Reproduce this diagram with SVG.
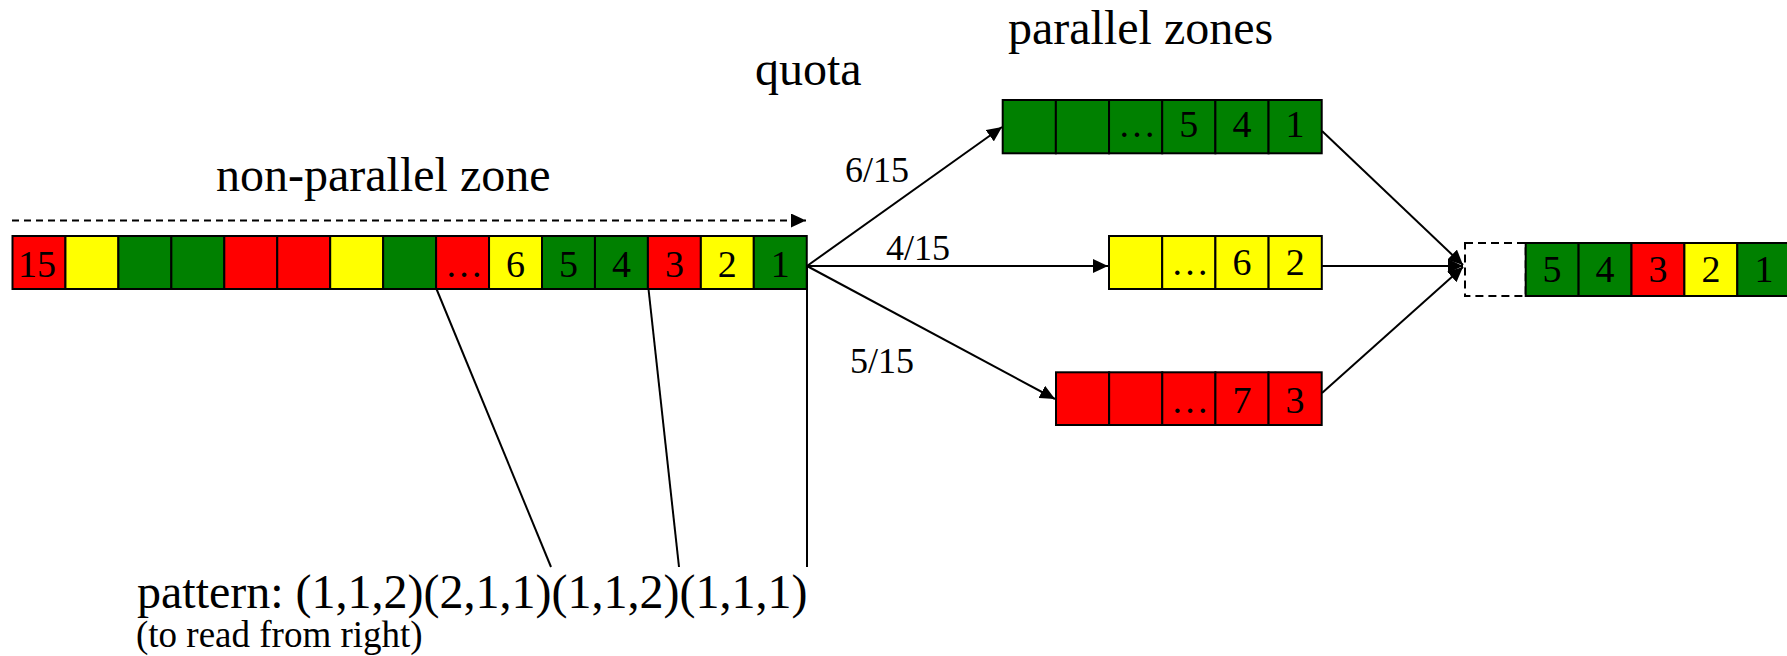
<svg xmlns="http://www.w3.org/2000/svg" width="1787" height="656" viewBox="0 0 1787 656" font-family="'Liberation Serif', 'Times New Roman', serif">
<defs>
<marker id="ah" markerUnits="userSpaceOnUse" markerWidth="16" markerHeight="14" refX="15" refY="7" orient="auto">
<path d="M0,0 L15,7 L0,14 z" fill="#000"/>
</marker>
</defs>
<style>
text{font-family:"Liberation Serif","Times New Roman",serif;fill:#000}
.big{font-size:48px}
.q{font-size:36px}
.c{font-size:38px;text-anchor:middle}
.g{fill:#008000;stroke:#000;stroke-width:2}
.r{fill:#ff0000;stroke:#000;stroke-width:2}
.y{fill:#ffff00;stroke:#000;stroke-width:2}
.ln{stroke:#000;stroke-width:2;fill:none}
</style>
<rect width="1787" height="656" fill="#fff"/>

<text class="big" x="216" y="191">non-parallel zone</text>
<text class="big" x="755" y="85">quota</text>
<text class="big" x="1008" y="44">parallel zones</text>

<g id="connectors">
<line class="ln" x1="12" y1="220.5" x2="806" y2="220.5" stroke-dasharray="7 5" marker-end="url(#ah)"/>
<line class="ln" x1="807" y1="266" x2="1002" y2="127" marker-end="url(#ah)"/>
<line class="ln" x1="807" y1="266" x2="1108" y2="266" marker-end="url(#ah)"/>
<line class="ln" x1="807" y1="266" x2="1055" y2="399" marker-end="url(#ah)"/>
<line class="ln" x1="1322" y1="131" x2="1463" y2="265" marker-end="url(#ah)"/>
<line class="ln" x1="1322" y1="266" x2="1463" y2="266" marker-end="url(#ah)"/>
<line class="ln" x1="1322" y1="393" x2="1463" y2="267" marker-end="url(#ah)"/>
<line class="ln" x1="436.5" y1="289" x2="551" y2="567"/>
<line class="ln" x1="648.5" y1="289" x2="679" y2="567"/>
<line class="ln" x1="807" y1="266" x2="807" y2="567"/>
</g>

<g id="quota-labels">
<text class="q" x="845" y="182">6/15</text>
<text class="q" x="886" y="260">4/15</text>
<text class="q" x="850" y="373">5/15</text>
</g>

<g id="non-parallel-zone">
<rect class="r" x="12.5" y="236" width="52.95" height="53"/>
<rect class="y" x="65.45" y="236" width="52.95" height="53"/>
<rect class="g" x="118.4" y="236" width="52.95" height="53"/>
<rect class="g" x="171.35" y="236" width="52.95" height="53"/>
<rect class="r" x="224.3" y="236" width="52.95" height="53"/>
<rect class="r" x="277.25" y="236" width="52.95" height="53"/>
<rect class="y" x="330.2" y="236" width="52.95" height="53"/>
<rect class="g" x="383.15" y="236" width="52.95" height="53"/>
<rect class="r" x="436.1" y="236" width="52.95" height="53"/>
<rect class="y" x="489.05" y="236" width="52.95" height="53"/>
<rect class="g" x="542" y="236" width="52.95" height="53"/>
<rect class="g" x="594.95" y="236" width="52.95" height="53"/>
<rect class="r" x="647.9" y="236" width="52.95" height="53"/>
<rect class="y" x="700.85" y="236" width="52.95" height="53"/>
<rect class="g" x="753.8" y="236" width="52.95" height="53"/>
<text class="c" x="37" y="277">15</text>
<text class="c" x="464" y="277">…</text>
<text class="c" x="515.5" y="277">6</text>
<text class="c" x="568.5" y="277">5</text>
<text class="c" x="621.4" y="277">4</text>
<text class="c" x="674.4" y="277">3</text>
<text class="c" x="727.3" y="277">2</text>
<text class="c" x="780.3" y="277">1</text>
</g>

<g id="zone-green">
<rect class="g" x="1002.7" y="100" width="53.17" height="53.3"/>
<rect class="g" x="1055.87" y="100" width="53.17" height="53.3"/>
<rect class="g" x="1109.04" y="100" width="53.17" height="53.3"/>
<rect class="g" x="1162.21" y="100" width="53.17" height="53.3"/>
<rect class="g" x="1215.38" y="100" width="53.17" height="53.3"/>
<rect class="g" x="1268.55" y="100" width="53.17" height="53.3"/>
<text class="c" x="1137" y="137">…</text>
<text class="c" x="1188.8" y="137">5</text>
<text class="c" x="1242" y="137">4</text>
<text class="c" x="1295.1" y="137">1</text>
</g>

<g id="zone-yellow">
<rect class="y" x="1109" y="236" width="53.2" height="53"/>
<rect class="y" x="1162.2" y="236" width="53.2" height="53"/>
<rect class="y" x="1215.4" y="236" width="53.2" height="53"/>
<rect class="y" x="1268.6" y="236" width="53.2" height="53"/>
<text class="c" x="1190" y="275">…</text>
<text class="c" x="1242" y="275">6</text>
<text class="c" x="1295.2" y="275">2</text>
</g>

<g id="zone-red">
<rect class="r" x="1056" y="372.3" width="53.14" height="52.7"/>
<rect class="r" x="1109.14" y="372.3" width="53.14" height="52.7"/>
<rect class="r" x="1162.28" y="372.3" width="53.14" height="52.7"/>
<rect class="r" x="1215.42" y="372.3" width="53.14" height="52.7"/>
<rect class="r" x="1268.56" y="372.3" width="53.14" height="52.7"/>
<text class="c" x="1190" y="413">…</text>
<text class="c" x="1242" y="413">7</text>
<text class="c" x="1295.1" y="413">3</text>
</g>

<g id="output">
<rect x="1465" y="243" width="60.7" height="53" fill="none" stroke="#000" stroke-width="2" stroke-dasharray="8 5"/>
<rect class="g" x="1525.7" y="243" width="52.9" height="53"/>
<rect class="g" x="1578.6" y="243" width="52.9" height="53"/>
<rect class="r" x="1631.5" y="243" width="52.9" height="53"/>
<rect class="y" x="1684.4" y="243" width="52.9" height="53"/>
<rect class="g" x="1737.3" y="243" width="52.9" height="53"/>
<text class="c" x="1552" y="282">5</text>
<text class="c" x="1605" y="282">4</text>
<text class="c" x="1658" y="282">3</text>
<text class="c" x="1711" y="282">2</text>
<text class="c" x="1764" y="282">1</text>
</g>

<g id="pattern">
<text x="137" y="608" style="font-size:48px">pattern: (1,1,2)(2,1,1)(1,1,2)(1,1,1)</text>
<text x="136" y="647" style="font-size:37px">(to read from right)</text>
</g>
</svg>
